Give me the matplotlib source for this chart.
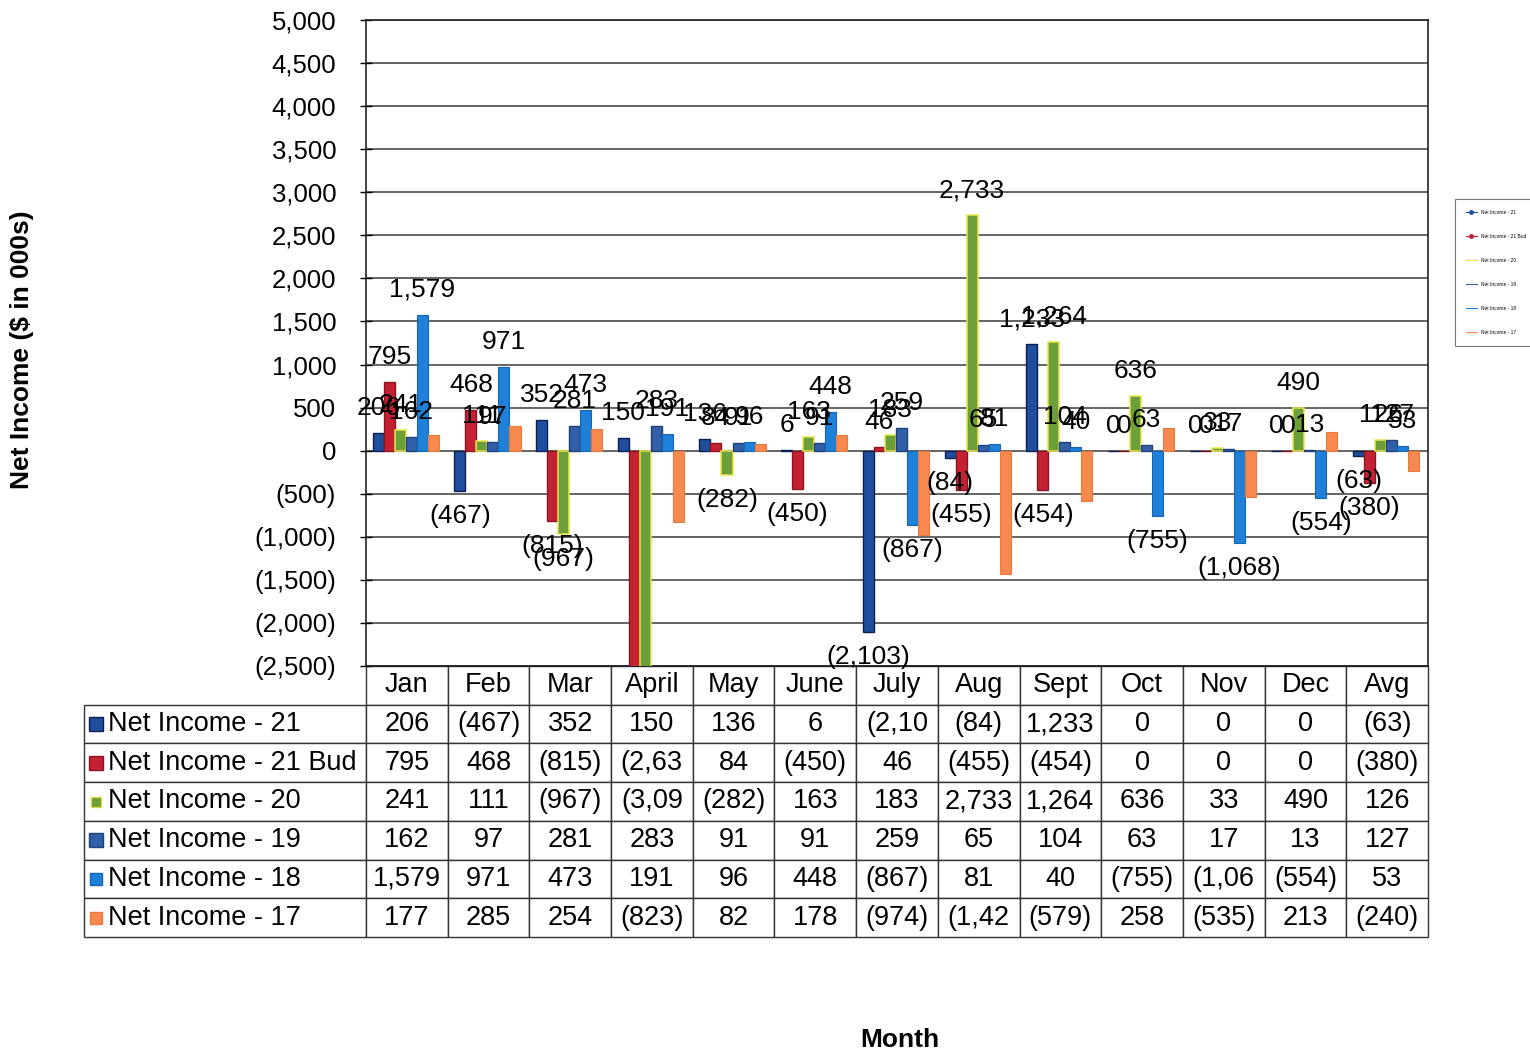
import matplotlib
matplotlib.use('Agg')
import matplotlib.pyplot as plt
from matplotlib.lines import Line2D
from matplotlib.ticker import FuncFormatter, MultipleLocator
import numpy as np

plt.rcParams['font.family'] = ['Liberation Sans', 'DejaVu Sans']

months = ['Jan', 'Feb', 'Mar', 'April', 'May', 'June', 'July', 'Aug', 'Sept', 'Oct', 'Nov', 'Dec', 'Avg']
series_names = ['Net Income - 21', 'Net Income - 21 Bud', 'Net Income - 20',
                'Net Income - 19', 'Net Income - 18', 'Net Income - 17']

ni_21 = [206, -467, 352, 150, 136, 6, -2103, -84, 1233, 0, 0, 0, -63]
ni_21_bud = [795, 468, -815, -2634, 84, -450, 46, -455, -454, 0, 0, 0, -380]
ni_20 = [241, 111, -967, -3093, -282, 163, 183, 2733, 1264, 636, 33, 490, 126]
ni_19 = [162, 97, 281, 283, 91, 91, 259, 65, 104, 63, 17, 13, 127]
ni_18 = [1579, 971, 473, 191, 96, 448, -867, 81, 40, -755, -1068, -554, 53]
ni_17 = [177, 285, 254, -823, 82, 178, -974, -1428, -579, 258, -535, 213, -240]

all_series = [ni_21, ni_21_bud, ni_20, ni_19, ni_18, ni_17]
face_colors = ['#1F4E9C', '#C42232', '#6C9E3A', '#3160A8', '#1E80D8', '#F7894F']
edge_colors = ['#0B1F55', '#8C1522', '#E8E44A', '#21407A', '#1665B0', '#E87A40']
edge_widths = [1.0, 1.0, 1.1, 1.0, 0.8, 0.8]
labelled = [True, True, True, True, True, False]


def fmt(v):
    if v < 0:
        return '({:,.0f})'.format(-v)
    return '{:,.0f}'.format(v)


def fmt_cell(v):
    # the narrow table cells cut off long negative numbers
    s = fmt(v)
    return s if len(s) <= 6 else s[:5]


fig = plt.figure(figsize=(15.3, 10.54), dpi=100)
ax = fig.add_axes([366 / 1530, 1 - 666 / 1054, 1062 / 1530, 646 / 1054])

x = np.arange(len(months))
bw = 0.135
ymin, ymax = -2500, 5000
for k, vals in enumerate(all_series):
    pos = x + (k - 2.6) * bw
    ax.bar(pos, vals, width=bw, color=face_colors[k], edgecolor=edge_colors[k],
           linewidth=edge_widths[k], zorder=3)
    if labelled[k]:
        for px, v in zip(pos, vals):
            if v < ymin or v > ymax:
                continue
            off = 18 if v >= 0 else -18
            ax.annotate(fmt(v), (px, v), xytext=(0, off), textcoords='offset points',
                        ha='center', va='center', fontsize=19, zorder=5,
                        annotation_clip=False)

ax.set_xlim(-0.5, len(months) - 0.5)
ax.set_ylim(ymin, ymax)
ax.yaxis.set_major_locator(MultipleLocator(500))
ax.yaxis.set_major_formatter(FuncFormatter(lambda v, p: fmt(v)))
ax.set_xticks([])
ax.tick_params(axis='y', direction='inout', length=9, width=1, pad=17, labelsize=18.5)
ax.yaxis.grid(True, color='#3a3a3a', linewidth=1.1, zorder=0)
ax.set_axisbelow(True)
for sp in ax.spines.values():
    sp.set_color('#222222')
    sp.set_linewidth(1.2)

# data table under the chart
cell_text = [[fmt_cell(v) for v in vals] for vals in all_series]
tbl = ax.table(cellText=cell_text, colLabels=months, cellLoc='center',
               bbox=[0, -(937 - 666) / 646, 1, (937 - 666) / 646])
h = tbl[1, 0].get_height()
for i, name in enumerate(series_names):
    c = tbl.add_cell(i + 1, -1, width=(366 - 84) / 1062, height=h, text=name, loc='left')
    c.PAD = 0.085
tbl.auto_set_font_size(False)
tbl.set_fontsize(19.5)
for key, cell in tbl.get_celld().items():
    cell.set_edgecolor('#333333')
    cell.set_linewidth(1.0)

# coloured keys in the row labels
row_h = (937 - 705) / 6
marker_sizes = [10, 10, 7, 10, 8, 8]
for i in range(6):
    yc = (666 - (705 + row_h * (i + 0.5))) / 646
    ax.plot([(96 - 366) / 1062], [yc], marker='s', markersize=marker_sizes[i],
            color=face_colors[i], markeredgecolor=edge_colors[i] if i != 2 else '#D8D850',
            transform=ax.transAxes, clip_on=False, linestyle='none')

# tiny legend at the right edge
handles = [Line2D([0], [0], color=face_colors[i], marker='o' if i < 2 else None,
                  markersize=2.5, linewidth=0.8) for i in range(6)]
handles[2].set_color('#F2E24A')
leg = fig.legend(handles, series_names,
                 loc='upper left', bbox_to_anchor=(1453 / 1530, 1 - 197 / 1054),
                 fontsize=3.5, labelspacing=3.9, handlelength=2.2, borderpad=2.2,
                 frameon=True, fancybox=False, edgecolor='#555555')
leg.get_frame().set_linewidth(0.8)

fig.text(22 / 1530, 1 - 350 / 1054, 'Net Income ($ in 000s)', rotation=90,
         ha='center', va='center', fontsize=19, fontweight='bold')
fig.text(900 / 1530, 1 - 1040 / 1054, 'Month', ha='center', va='center',
         fontsize=19, fontweight='bold')

fig.savefig('out.png', dpi=100)
